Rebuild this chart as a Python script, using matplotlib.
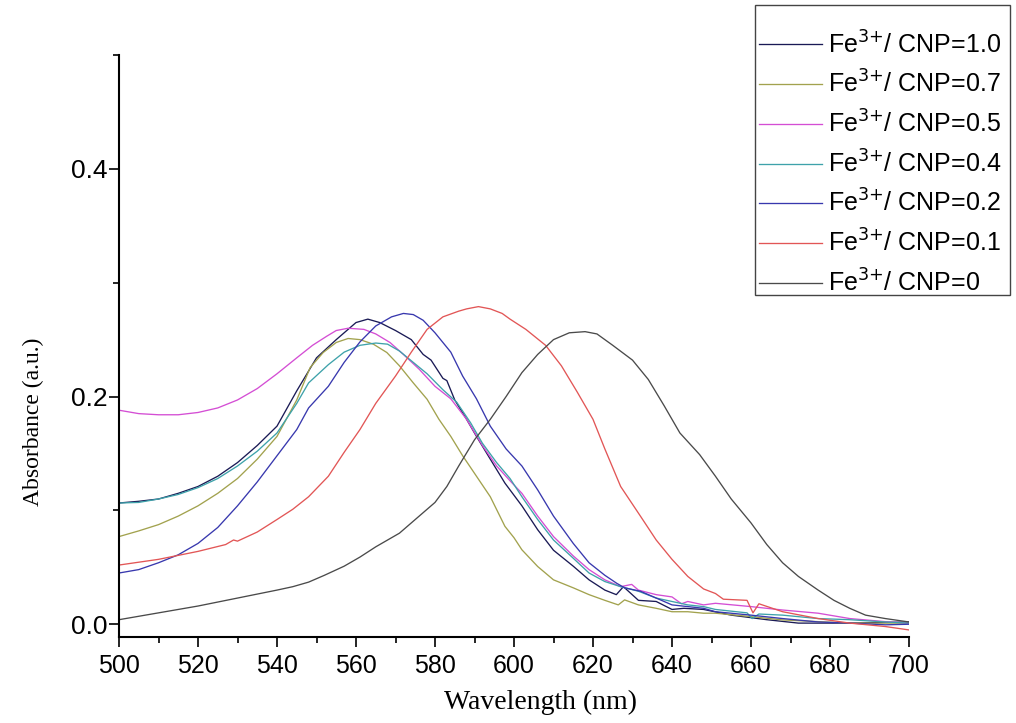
import matplotlib
matplotlib.use("Agg")
import matplotlib.pyplot as plt
from matplotlib.patches import Rectangle
from matplotlib.ticker import MultipleLocator, FormatStrFormatter

# Absorption spectra of CNP with increasing Fe3+ ratio
wl_r10 = [500, 505, 510, 515, 520, 525, 530, 535, 540, 545, 550, 555, 560, 563, 566, 570,
          574, 577, 579, 582, 583, 585, 588, 590.5, 594, 597.7, 602, 606, 610, 615, 619,
          623, 625.9, 627.7, 631.5, 636, 640, 643, 648, 655, 664, 672, 685, 700]
abs_r10 = [0.1065, 0.108, 0.110, 0.115, 0.121, 0.130, 0.142, 0.157, 0.174, 0.205, 0.234,
           0.250, 0.265, 0.268, 0.265, 0.258, 0.250, 0.237, 0.232, 0.216, 0.214, 0.197,
           0.180, 0.165, 0.145, 0.124, 0.104, 0.083, 0.065, 0.051, 0.039, 0.030, 0.026,
           0.033, 0.021, 0.020, 0.013, 0.014, 0.013, 0.008, 0.004, 0.001, 0.001, 0.002]

wl_r07 = [500, 505, 510, 515, 520, 525, 530, 535, 540, 545, 548.4, 551.7, 555, 558, 561,
          564.4, 567.8, 571, 574.5, 578, 581, 584, 587, 590.5, 594, 597.7, 600, 602, 606,
          610, 615, 619, 623, 626.4, 628, 631.5, 636, 640, 644, 648, 651, 660, 668, 677,
          685, 700]
abs_r07 = [0.077, 0.082, 0.0875, 0.095, 0.104, 0.115, 0.128, 0.145, 0.165, 0.197, 0.2255,
           0.2387, 0.2475, 0.251, 0.250, 0.246, 0.2387, 0.227, 0.212, 0.1976, 0.180,
           0.165, 0.148, 0.130, 0.112, 0.086, 0.076, 0.0654, 0.0507, 0.039, 0.032, 0.026,
           0.021, 0.017, 0.0214, 0.017, 0.014, 0.011, 0.011, 0.0097, 0.0097, 0.0067,
           0.0038, 0.0023, 0.001, 0.001]

wl_r05 = [500, 505, 510, 515, 520, 525, 530, 535, 540, 545, 549, 552.6, 555, 558, 562, 565,
          568.6, 572, 576, 580, 584, 588, 592, 595.6, 599, 602, 606, 610, 615, 619, 623,
          627, 629.8, 631.5, 636, 640, 642.4, 644, 648, 651, 660, 668, 677, 685, 694, 700]
abs_r05 = [0.188, 0.185, 0.184, 0.184, 0.186, 0.190, 0.197, 0.207, 0.220, 0.234, 0.245,
           0.253, 0.258, 0.260, 0.259, 0.255, 0.2475, 0.237, 0.224, 0.209, 0.198, 0.180,
           0.157, 0.139, 0.126, 0.115, 0.095, 0.077, 0.060, 0.048, 0.039, 0.033, 0.035,
           0.030, 0.026, 0.024, 0.018, 0.020, 0.017, 0.0184, 0.0155, 0.0125, 0.0097,
           0.005, 0.0023, 0.001]

wl_r04 = [500, 505, 510, 515, 520, 525, 530, 535, 540, 545, 548, 553, 557, 561, 565, 568,
          571, 574.5, 578, 582, 585.5, 589, 592, 595.6, 599, 602, 606, 610, 615, 619, 623,
          627, 631.5, 636, 640, 644, 648, 651, 659, 660.3, 662, 668, 677, 685, 694, 700]
abs_r04 = [0.1065, 0.107, 0.110, 0.114, 0.120, 0.128, 0.139, 0.152, 0.168, 0.194, 0.212,
           0.228, 0.239, 0.245, 0.247, 0.246, 0.240, 0.230, 0.220, 0.206, 0.195, 0.177,
           0.159, 0.142, 0.128, 0.112, 0.092, 0.074, 0.058, 0.045, 0.0375, 0.033, 0.029,
           0.023, 0.020, 0.017, 0.0155, 0.013, 0.010, 0.005, 0.009, 0.008, 0.005, 0.004,
           0.002, 0.001]

wl_r02 = [500, 505, 510, 515, 520, 525, 530, 535, 540, 545, 548, 553, 557, 561, 565, 569,
          572, 574.5, 577, 580, 584, 587, 590.5, 594, 598, 602, 606, 610, 615, 619, 623,
          626, 628, 632, 636, 640, 644, 648, 651, 660, 668, 677, 685, 694, 700]
abs_r02 = [0.045, 0.048, 0.054, 0.061, 0.071, 0.085, 0.104, 0.125, 0.148, 0.171, 0.190,
           0.209, 0.230, 0.248, 0.262, 0.270, 0.273, 0.272, 0.267, 0.256, 0.239, 0.218,
           0.198, 0.174, 0.154, 0.139, 0.118, 0.095, 0.071, 0.054, 0.043, 0.036, 0.032,
           0.029, 0.023, 0.017, 0.0155, 0.014, 0.011, 0.008, 0.005, 0.002, 0.001,
           -0.0005, 0.000]

wl_r01 = [500, 510, 520, 527, 529, 530, 535, 540, 544, 548, 553, 557, 561, 565, 570, 574,
          578, 582, 586, 588, 591, 594, 597, 599, 603, 608, 612, 616, 620, 623, 627, 632,
          636, 640, 644, 648, 651, 653, 659, 660.5, 662, 668, 677, 685, 694, 700]
abs_r01 = [0.052, 0.057, 0.064, 0.070, 0.074, 0.073, 0.081, 0.092, 0.101, 0.112, 0.130,
           0.151, 0.171, 0.194, 0.218, 0.239, 0.259, 0.270, 0.275, 0.277, 0.279, 0.277,
           0.273, 0.268, 0.259, 0.245, 0.227, 0.204, 0.180, 0.154, 0.121, 0.095, 0.074,
           0.057, 0.042, 0.031, 0.027, 0.022, 0.021, 0.010, 0.018, 0.011, 0.005, 0.001,
           -0.002, -0.005]

wl_r00 = [500, 510, 520, 530, 540, 544, 548, 552, 557, 561, 565, 571, 575, 580, 583, 586,
          590, 594, 598, 602, 606, 610, 614, 618, 621, 625, 630, 634, 638, 642, 647, 651,
          655, 660, 664, 668, 672, 677, 681, 685, 689, 694, 700]
abs_r00 = [0.004, 0.010, 0.016, 0.023, 0.030, 0.033, 0.037, 0.043, 0.051, 0.059, 0.068,
           0.080, 0.092, 0.107, 0.121, 0.139, 0.162, 0.180, 0.200, 0.221, 0.237, 0.250,
           0.256, 0.257, 0.255, 0.245, 0.232, 0.215, 0.192, 0.168, 0.149, 0.130, 0.110,
           0.089, 0.070, 0.054, 0.042, 0.030, 0.021, 0.014, 0.008, 0.005, 0.002]

ratios = ["1.0", "0.7", "0.5", "0.4", "0.2", "0.1", "0"]
colors = ["#1a1a55", "#a2a24e", "#d44ed4", "#3ea2aa", "#3838ae", "#e25656", "#4a4a4a"]
series = [(wl_r10, abs_r10), (wl_r07, abs_r07), (wl_r05, abs_r05), (wl_r04, abs_r04),
          (wl_r02, abs_r02), (wl_r01, abs_r01), (wl_r00, abs_r00)]

W, H = 1016, 723
fig = plt.figure(figsize=(W / 100, H / 100), dpi=100)
ax = fig.add_axes([119 / W, 1 - 637 / H, 790 / W, 582 / H])

for (wl, ab), r, c in zip(series, ratios, colors):
    ax.plot(wl, ab, color=c, lw=0.95, label=r"Fe$^{\text{3+}}$/ CNP=" + r)

ax.set_xlim(500, 700)
ax.set_ylim(-0.0112, 0.5)
for s in ("top", "right"):
    ax.spines[s].set_visible(False)
for s in ("left", "bottom"):
    ax.spines[s].set_linewidth(1.5)

ax.xaxis.set_major_locator(MultipleLocator(20))
ax.xaxis.set_minor_locator(MultipleLocator(10))
ax.yaxis.set_major_locator(MultipleLocator(0.2))
ax.yaxis.set_minor_locator(MultipleLocator(0.1))
ax.yaxis.set_major_formatter(FormatStrFormatter("%.1f"))
ax.tick_params(which="major", direction="out", length=7, width=1.2)
ax.tick_params(which="minor", direction="out", length=4, width=1.2)
ax.tick_params(axis="x", which="major", pad=5)
ax.tick_params(axis="y", which="major", pad=1)

for lab in ax.get_xticklabels():
    lab.set_fontfamily("Liberation Sans")
    lab.set_fontsize(18)
for lab in ax.get_yticklabels():
    lab.set_fontfamily("Liberation Sans")
    lab.set_fontsize(19)

ax.set_xlabel("Wavelength (nm)", fontfamily="Liberation Serif", fontsize=20)
ax.set_ylabel("Absorbance (a.u.)", fontfamily="Liberation Serif", fontsize=17)
ax.xaxis.set_label_coords((540 - 119) / 790, (637 - 690) / 582)
ax.yaxis.set_label_coords((44 - 119) / 790, (637 - 422) / 582)

# legend entries without their own frame, boxed by a separate rectangle
leg = fig.legend(loc="upper left", bbox_to_anchor=(759 / W, 1 - 31 / H),
                 bbox_transform=fig.transFigure, borderaxespad=0, borderpad=0,
                 frameon=False, prop={"family": "Liberation Sans", "size": 18},
                 handlelength=2.5, handletextpad=0.28, labelspacing=0.5)
fig.add_artist(Rectangle((755 / W, 1 - 295 / H), 255 / W, 290 / H,
                         transform=fig.transFigure, fill=False,
                         edgecolor="#444444", linewidth=1.0))

fig.savefig("out.png", dpi=100)
